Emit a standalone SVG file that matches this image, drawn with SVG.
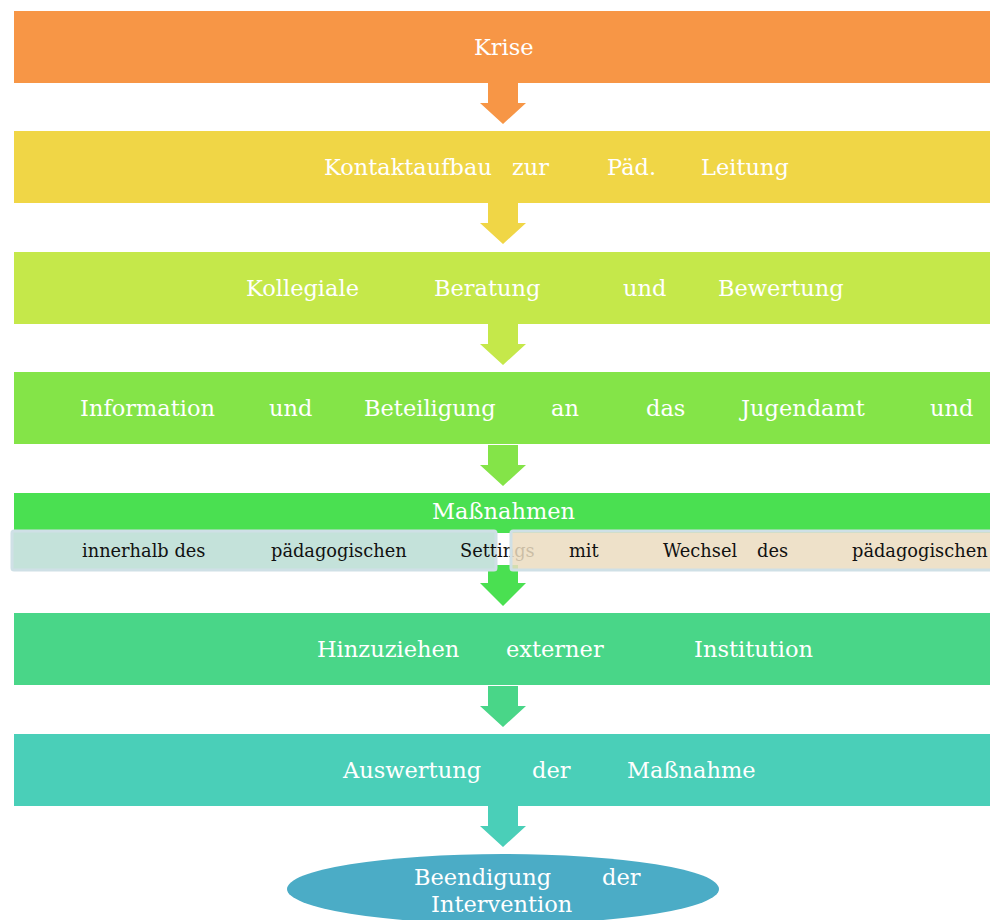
<svg xmlns="http://www.w3.org/2000/svg" xmlns:xlink="http://www.w3.org/1999/xlink" width="990" height="920" viewBox="0 0 990 920">
<style>
.w{fill:#ffffff;font-family:"DejaVu Serif","Liberation Serif",serif;font-size:22.5px}
.b{fill:#111111;font-family:"DejaVu Serif","Liberation Serif",serif;font-size:17.8px}
</style>
<defs>
<path id="arr" d="M-15,0 L15,0 L15,20 L23,20 L0,41 L-23,20 L-15,20 Z"/>
</defs>
<rect width="990" height="920" fill="#ffffff"/>
<g id="connectors">
<use xlink:href="#arr" transform="translate(503,83)" fill="#F79646"/>
<use xlink:href="#arr" transform="translate(503,203)" fill="#F0D646"/>
<use xlink:href="#arr" transform="translate(503,324)" fill="#C5E84A"/>
<use xlink:href="#arr" transform="translate(503,445)" fill="#84E448"/>
<path d="M488,565 L518,565 L518,583 L526,583 L503,606 L480,583 L488,583 Z" fill="#4AE051"/>
<use xlink:href="#arr" transform="translate(503,686)" fill="#49D688"/>
<use xlink:href="#arr" transform="translate(503,806)" fill="#4ACFB8"/>
</g>
<g id="n1"><rect x="14" y="11" width="976" height="72" fill="#F79646"/>
<text class="w" x="474" y="55">Krise</text></g>
<g id="n2"><rect x="14" y="131" width="976" height="72" fill="#F0D646"/>
<text class="w" y="175"><tspan x="324">Kontaktaufbau</tspan><tspan x="512">zur</tspan><tspan x="607">Päd.</tspan><tspan x="701">Leitung</tspan></text></g>
<g id="n3"><rect x="14" y="252" width="976" height="72" fill="#C5E84A"/>
<text class="w" y="296"><tspan x="246">Kollegiale</tspan><tspan x="434">Beratung</tspan><tspan x="623">und</tspan><tspan x="718">Bewertung</tspan></text></g>
<g id="n4"><rect x="14" y="372" width="976" height="72" fill="#84E448"/>
<text class="w" y="416"><tspan x="80">Information</tspan><tspan x="269">und</tspan><tspan x="364">Beteiligung</tspan><tspan x="551">an</tspan><tspan x="646">das</tspan><tspan x="741">Jugendamt</tspan><tspan x="930">und</tspan></text></g>
<g id="n5"><rect x="14" y="493" width="976" height="40" fill="#4AE051"/>
<text class="w" x="432" y="519">Maßnahmen</text></g>
<g id="n5a"><rect x="12" y="531" width="484" height="39" rx="2" fill="#C4E2DA" stroke="#CFE0E6" stroke-width="3"/>
<text class="b" y="557"><tspan x="82">innerhalb des</tspan><tspan x="271">pädagogischen</tspan><tspan x="460">Settings</tspan></text></g>
<g id="n5b"><rect x="511" y="531" width="481" height="39" rx="2" fill="#EBDCC0" fill-opacity="0.85" stroke="#CFE0E6" stroke-width="3"/>
<text class="b" y="557"><tspan x="569">mit</tspan><tspan x="663">Wechsel</tspan><tspan x="757">des</tspan><tspan x="852">pädagogischen</tspan></text></g>
<g id="n6"><rect x="14" y="613" width="976" height="72" fill="#49D688"/>
<text class="w" y="657"><tspan x="317">Hinzuziehen</tspan><tspan x="506">externer</tspan><tspan x="694">Institution</tspan></text></g>
<g id="n7"><rect x="14" y="734" width="976" height="72" fill="#4ACFB8"/>
<text class="w" y="778"><tspan x="343">Auswertung</tspan><tspan x="532">der</tspan><tspan x="627">Maßnahme</tspan></text></g>
<g id="n8"><ellipse cx="503" cy="889" rx="216" ry="35" fill="#4BACC6"/>
<text class="w"><tspan x="414" y="885">Beendigung</tspan><tspan x="602" y="885">der</tspan><tspan x="431" y="912">Intervention</tspan></text></g>
</svg>
